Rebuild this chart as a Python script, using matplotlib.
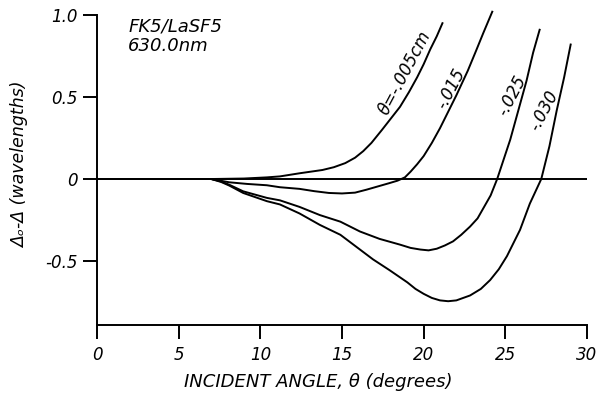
import matplotlib
matplotlib.use("Agg")
from matplotlib import pyplot as plt

# values read off the reference
# curve: delta = -.005 cm
x005 = [0, 7, 9, 10.4, 11.2, 12.4, 13.8, 14.5, 15.2, 15.8, 16.3, 16.8, 17.45, 18.0, 18.55, 19.1, 19.6, 20.0, 20.4, 20.8, 21.15]
y005 = [0, 0, 0.003, 0.01, 0.016, 0.035, 0.055, 0.072, 0.097, 0.13, 0.17, 0.22, 0.30, 0.37, 0.44, 0.53, 0.62, 0.70, 0.79, 0.87, 0.95]

# curve: -.015
x015 = [0, 7, 8.1, 9.2, 10.4, 11.2, 12.4, 13.3, 14.2, 15.0, 15.8, 16.5, 17.2, 17.9, 18.4, 18.85, 19.2, 19.6, 20.0, 20.5,
        21.0, 21.5, 22.0, 22.7, 23.2, 23.65, 24.2]
y015 = [0, 0, -0.02, -0.03, -0.038, -0.05, -0.06, -0.074, -0.085, -0.088, -0.083, -0.065, -0.045, -0.025, -0.01, 0.01,
        0.045, 0.09, 0.14, 0.22, 0.31, 0.41, 0.51, 0.66, 0.78, 0.89, 1.02]

# curve: -.025
x025 = [0, 7, 7.6, 8.1, 8.95, 10.4, 11.2, 12.4, 13.65, 14.9, 16.1, 17.3, 18.55, 19.2, 19.8, 20.3, 20.8, 21.3, 21.8,
        22.3, 22.84, 23.3, 23.7, 24.1, 24.5, 24.9, 25.3, 25.8, 26.3, 26.7, 27.1]
y025 = [0, 0, -0.015, -0.035, -0.075, -0.115, -0.13, -0.17, -0.22, -0.26, -0.32, -0.365, -0.40, -0.42, -0.43, -0.435,
        -0.425, -0.405, -0.38, -0.34, -0.29, -0.24, -0.17, -0.10, 0, 0.12, 0.24, 0.42, 0.60, 0.77, 0.91]

# curve: -.030
x030 = [0, 7, 7.6, 8.1, 8.95, 10.4, 11.2, 12.4, 13.65, 14.9, 16.1, 16.9, 17.9, 19.0, 19.5, 20.0, 20.5, 21.0, 21.5, 22.0,
        22.84, 23.5, 24.07, 24.6, 25.1, 25.5, 25.9, 26.2, 26.5, 26.85, 27.2, 27.7, 28.15, 28.6, 29.0]
y030 = [0, 0, -0.018, -0.04, -0.085, -0.135, -0.155, -0.21, -0.28, -0.34, -0.43, -0.49, -0.555, -0.63, -0.67, -0.70,
        -0.725, -0.74, -0.745, -0.74, -0.71, -0.67, -0.616, -0.55, -0.47, -0.39, -0.31, -0.23, -0.15, -0.075, 0, 0.2,
        0.42, 0.62, 0.82]

curves = [(x005, y005), (x015, y015), (x025, y025), (x030, y030)]

# curve labels: text, x, y
labels = ['θ=-.005cm', '-.015', '-.025', '-.030']
lab_x = [18.86, 21.65, 25.4, 27.37]
lab_y = [0.65, 0.553, 0.506, 0.417]

xticks = [0, 5, 10, 15, 20, 25, 30]
yticks = [-0.5, 0, 0.5, 1.0]
ytick_labels = ['-0.5', '0', '0.5', '1.0']

fig = plt.figure(figsize=(6, 3.94), dpi=100)
ax = fig.add_axes([97/600, 69/394, 490/600, 310/394])

ax.axhline(0, color='black', lw=1.4)
for xs, ys in curves:
    ax.plot(xs, ys, color='black', lw=1.4, clip_on=False, solid_joinstyle='round')

for t, lx, ly in zip(labels, lab_x, lab_y):
    ax.text(lx, ly, t, rotation=62, ha='center', va='center',
            fontsize=12, style='italic')

ax.text(1.9, 0.87, 'FK5/LaSF5\n630.0nm', fontsize=13, style='italic',
        va='center', ha='left', linespacing=1.15)

ax.set_xlim(0, 30)
ax.set_ylim(-0.89, 1.0)
ax.set_xticks(xticks)
ax.set_xticklabels([str(v) for v in xticks], style='italic', fontsize=12)
ax.set_yticks(yticks)
ax.set_yticklabels(ytick_labels, style='italic', fontsize=12)
ax.tick_params(direction='out', length=10, width=1.4, pad=4)
ax.tick_params(axis='x', pad=5)

ax.spines['top'].set_visible(False)
ax.spines['right'].set_visible(False)
ax.spines['left'].set_linewidth(1.4)
ax.spines['bottom'].set_linewidth(1.4)

fig.text(318/600, 1 - 382/394, 'INCIDENT ANGLE, θ (degrees)', ha='center',
         va='center', fontsize=13, style='italic')
fig.text(20/600, 1 - 165/394, 'Δₒ-Δ (wavelengths)', ha='center', va='center',
         rotation=90, fontsize=12.5, style='italic')

plt.savefig('out.png', dpi=100)
